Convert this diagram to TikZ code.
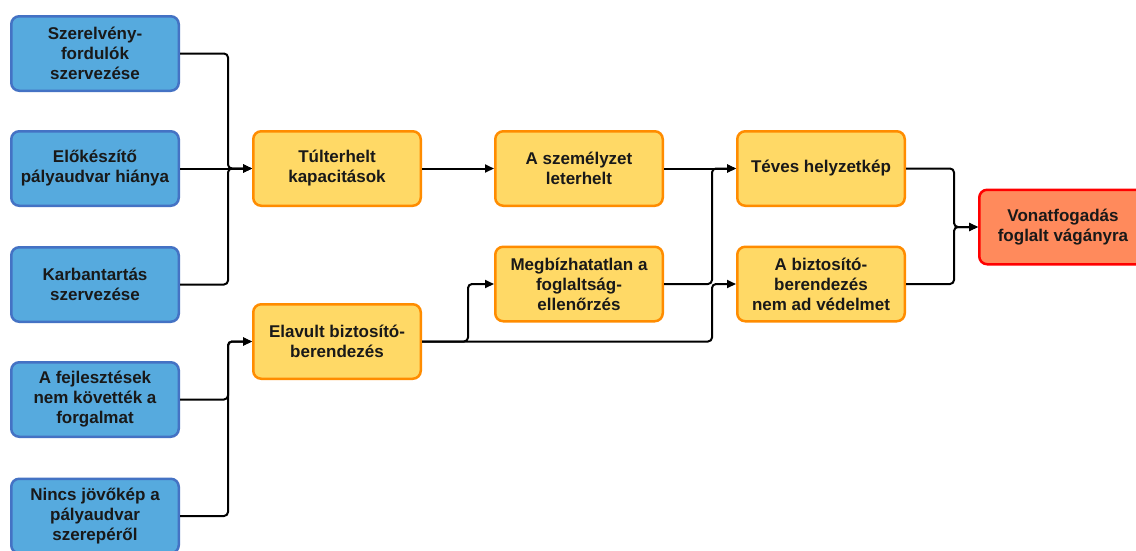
\documentclass[tikz,border=0pt]{standalone}
\usepackage{fontspec}
\setmainfont{Liberation Sans}
\usetikzlibrary{arrows.meta}

\definecolor{causefill}{RGB}{86,170,222}
\definecolor{causeline}{RGB}{68,114,196}
\definecolor{midfill}{RGB}{255,217,102}
\definecolor{midline}{RGB}{255,140,0}
\definecolor{endfill}{RGB}{255,138,92}
\definecolor{endline}{RGB}{255,0,0}

\begin{document}
\begin{tikzpicture}[x=1pt,y=-1pt,
  box/.style={rounded corners=8pt,line width=2.5pt,minimum width=167.5pt,minimum height=74.5pt,
    align=center,inner sep=2pt,text=black!90,font=\fontsize{17}{20}\selectfont\bfseries},
  causebox/.style={box,fill=causefill,draw=causeline},
  midbox/.style={box,fill=midfill,draw=midline},
  endbox/.style={box,fill=endfill,draw=endline},
  link/.style={line width=2pt,rounded corners=4pt,-{Triangle[length=9pt,width=8pt]}}]
\clip (0,0) rectangle (1136,550);
\fill[white] (0,0) rectangle (1136,550);

\node[causebox] (fordulo) at (95,53.5) {Szerelvény-\\fordulók\\szervezése};
\node[causebox] (elokeszito) at (95,168.5) {Előkészítő\\pályaudvar hiánya};
\node[causebox] (karbantartas) at (95,284.5) {Karbantartás\\szervezése};
\node[causebox] (fejlesztes) at (95,399.5) {A fejlesztések\\nem követték a\\forgalmat};
\node[causebox] (jovokep) at (95,516) {Nincs jövőkép a\\pályaudvar\\szerepéről};

\node[midbox] (kapacitas) at (337,168.5) {Túlterhelt\\kapacitások};
\node[midbox] (elavult) at (337,341.5) {Elavult biztosító-\\berendezés};
\node[midbox] (szemelyzet) at (579,168.5) {A személyzet\\leterhelt};
\node[midbox] (foglaltsag) at (579,284) {Megbízhatatlan a\\foglaltság-\\ellenőrzés};
\node[midbox] (helyzetkep) at (821,168.5) {Téves helyzetkép};
\node[midbox] (vedelem) at (821,284) {A biztosító-\\berendezés\\nem ad védelmet};

\node[endbox] (vonatfogadas) at (1063,227) {Vonatfogadás\\foglalt vágányra};

% vertical collector lines between the columns
\coordinate (busa) at (228,0);
\coordinate (busb) at (468,0);
\coordinate (busc) at (712,0);
\coordinate (busd) at (954,0);

\draw[link] (fordulo.east) -- (fordulo.east -| busa) -- (kapacitas.west -| busa) -- (kapacitas.west);
\draw[link] (elokeszito.east) -- (kapacitas.west);
\draw[link] (karbantartas.east) -- (karbantartas.east -| busa) -- (kapacitas.west -| busa) -- (kapacitas.west);
\draw[link] (fejlesztes.east) -- (fejlesztes.east -| busa) -- (elavult.west -| busa) -- (elavult.west);
\draw[link] (jovokep.east) -- (jovokep.east -| busa) -- (elavult.west -| busa) -- (elavult.west);

\draw[link] (kapacitas.east) -- (szemelyzet.west);
\draw[link] (elavult.east) -- (elavult.east -| busb) -- (foglaltsag.west -| busb) -- (foglaltsag.west);
\draw[link] (elavult.east) -- (elavult.east -| busc) -- (vedelem.west -| busc) -- (vedelem.west);

\draw[link] (szemelyzet.east) -- (helyzetkep.west);
\draw[link] (foglaltsag.east) -- (foglaltsag.east -| busc) -- (helyzetkep.west -| busc) -- (helyzetkep.west);

\draw[link] (helyzetkep.east) -- (helyzetkep.east -| busd) -- (vonatfogadas.west -| busd) -- (vonatfogadas.west);
\draw[link] (vedelem.east) -- (vedelem.east -| busd) -- (vonatfogadas.west -| busd) -- (vonatfogadas.west);
\end{tikzpicture}
\end{document}
